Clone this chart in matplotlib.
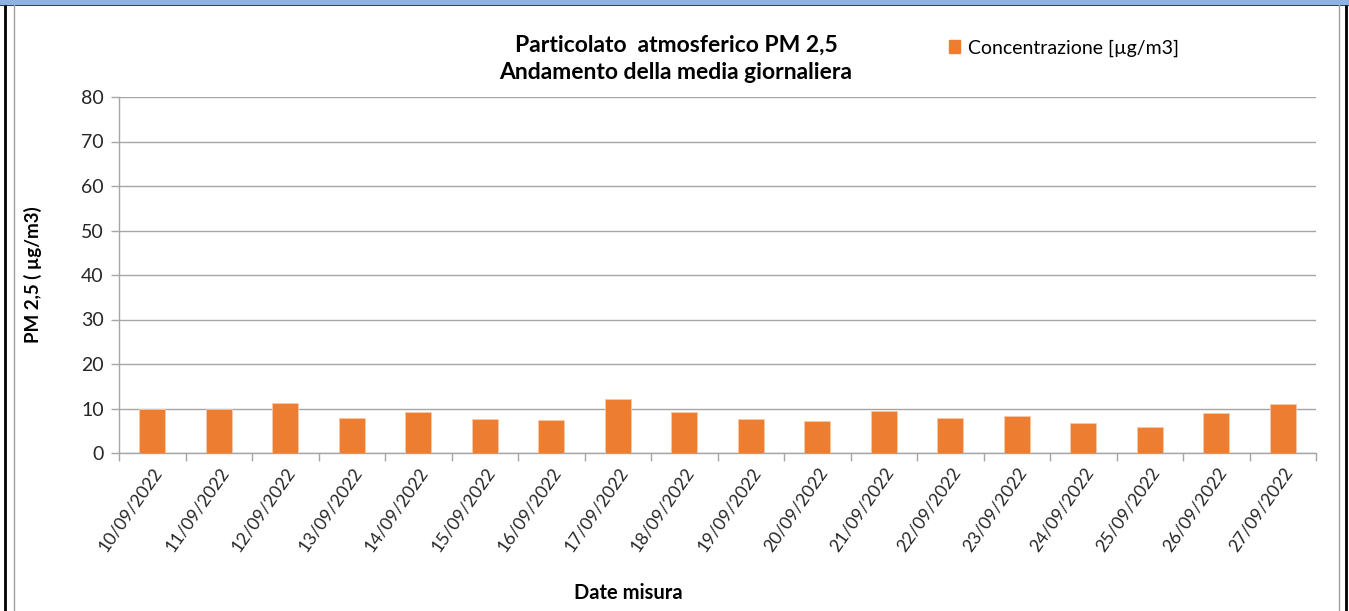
import matplotlib
matplotlib.use("Agg")
import matplotlib.pyplot as plt
from matplotlib.lines import Line2D
from matplotlib.patches import Rectangle

dates = ["10/09/2022", "11/09/2022", "12/09/2022", "13/09/2022", "14/09/2022",
         "15/09/2022", "16/09/2022", "17/09/2022", "18/09/2022", "19/09/2022",
         "20/09/2022", "21/09/2022", "22/09/2022", "23/09/2022", "24/09/2022",
         "25/09/2022", "26/09/2022", "27/09/2022"]
values = [10.0, 9.9, 11.2, 7.8, 9.2, 7.6, 7.5, 12.1, 9.2, 7.6,
          7.2, 9.5, 7.8, 8.4, 6.7, 5.8, 8.9, 10.9]
yticks = [0, 10, 20, 30, 40, 50, 60, 70, 80]

plt.rcParams['font.family'] = ['Lato', 'DejaVu Sans']

fig = plt.figure(figsize=(13.49, 6.11), dpi=100)
ax = fig.add_axes([119/1349, 1-453/611, (1316-119)/1349, (453-97)/611])

orange = "#ED7D31"
grid = "#A6A6A6"
x = list(range(len(dates)))
ax.bar(x, values, width=0.39, color=orange, edgecolor="#F8C8A8", linewidth=0.6,
       label="Concentrazione [µg/m3]", zorder=3)

ax.set_ylim(0, 80)
ax.set_xlim(-0.5, len(dates) - 0.5)
ax.set_yticks(yticks)
ax.set_yticklabels([str(t) for t in yticks], fontsize=14, color="#262626")
ax.yaxis.grid(True, color=grid, linewidth=1.0, zorder=0)
ax.set_axisbelow(True)

ax.set_xticks(x)
ax.set_xticklabels(dates, rotation=55, ha='right', va='top', rotation_mode='anchor',
                   fontsize=12.8, color="#262626")
ax.set_xticks([i - 0.5 for i in range(len(dates) + 1)], minor=True)
ax.tick_params(axis='x', which='major', length=0, pad=8)
ax.tick_params(axis='x', which='minor', length=6, color=grid, width=1)
ax.tick_params(axis='y', length=6, color=grid, width=1, pad=5)

for s in ['top', 'right']:
    ax.spines[s].set_visible(False)
for s in ['left', 'bottom']:
    ax.spines[s].set_color(grid)
    ax.spines[s].set_linewidth(1.0)

ax.set_ylabel("PM 2,5 ( µg/m3)", fontsize=13.5, fontweight='bold')
ax.yaxis.set_label_coords((42-119)/(1316-119), 0.5)
ax.set_xlabel("Date misura", fontsize=14.5, fontweight='bold')
ax.xaxis.set_label_coords((628-119)/(1316-119), (453-583)/(453-97))

fig.text(676/1349, 1-59/611, "Particolato  atmosferico PM 2,5\nAndamento della media giornaliera",
         ha='center', va='center', fontsize=16.5, fontweight='bold', linespacing=1.4)

leg = fig.legend(handles=[Rectangle((0, 0), 1, 1, color=orange)],
                 labels=["Concentrazione [µg/m3]"], loc='center left',
                 bbox_to_anchor=(931/1349, 1-48/611), frameon=False, fontsize=14,
                 handlelength=0.6, handleheight=0.6, handletextpad=0.4)

# outer frame
fig.patches.append(Rectangle((0, 1-4/611), 1, 4/611, transform=fig.transFigure,
                             color="#8DB3E2", zorder=10))
fig.lines.append(Line2D([0, 1], [1-4.5/611]*2, transform=fig.transFigure, color="black", lw=1.2))
fig.lines.append(Line2D([4.5/1349]*2, [0, 1-4/611], transform=fig.transFigure, color="black", lw=2))
fig.lines.append(Line2D([14/1349]*2, [0, 1-5/611], transform=fig.transFigure, color="#A0A0A0", lw=1))
fig.lines.append(Line2D([1346/1349]*2, [0, 1-4/611], transform=fig.transFigure, color="black", lw=2))
fig.lines.append(Line2D([1339/1349]*2, [0, 1-5/611], transform=fig.transFigure, color="#A0A0A0", lw=1))

fig.savefig("out.png", dpi=100)
